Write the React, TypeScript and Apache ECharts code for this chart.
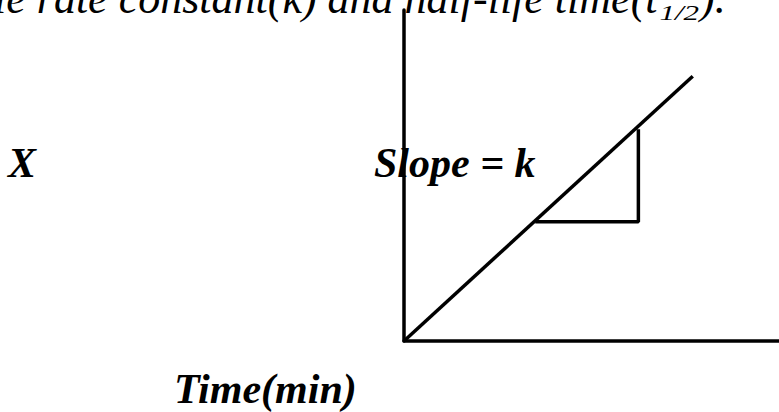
import React, { useEffect, useRef } from "react";
import * as echarts from "echarts";

// Data (abstract units: time on x, X on y)
const lineTime = [0, 7.7];
const lineX = [0, 8.0];
const triTime = [3.5, 6.25, 6.25];
const triX = [3.6, 3.6, 6.4];

const titleMain = "le rate constant(k) and half-life time(t";
const titleSub = "1/2";
const titleEnd = ").";
const yLabel = "X";
const slopeLabel = "Slope = k";
const xLabel = "Time(min)";

const W = 779;
const H = 412;

function measure(text: string, font: string): number {
  const c = document.createElement("canvas");
  const ctx = c.getContext("2d");
  if (!ctx) return text.length * 20;
  ctx.font = font;
  return ctx.measureText(text).width;
}

export default function App() {
  const ref = useRef<HTMLDivElement>(null);
  useEffect(() => {
    document.body.style.margin = "0";
    if (!ref.current) return;
    const chart = echarts.init(ref.current, undefined, { renderer: "svg" });
    const serif = "'Liberation Serif', 'Times New Roman', serif";
    const titleSize = 44;
    const titleX = -6;
    const mainW = measure(titleMain, `italic ${titleSize}px ${serif}`);
    const subSize = 20;
    const subScaleX = 1.55;
    const subW = measure(titleSub, `italic ${subSize}px ${serif}`) * subScaleX;
    const subX = titleX + mainW + 2;
    const endX = subX + subW + 1;
    const central = 0.3375;
    const lw = 3.5;

    const option: any = {
      animation: false,
      backgroundColor: "#ffffff",
      grid: { left: 404, right: 0, top: 10, bottom: 71, containLabel: false },
      xAxis: {
        type: "value",
        min: 0,
        max: 10,
        axisLine: { show: true, lineStyle: { color: "#000", width: lw } },
        axisTick: { show: false },
        axisLabel: { show: false },
        splitLine: { show: false },
      },
      yAxis: {
        type: "value",
        min: 0,
        max: 10,
        axisLine: { show: true, lineStyle: { color: "#000", width: lw } },
        axisTick: { show: false },
        axisLabel: { show: false },
        splitLine: { show: false },
      },
      series: [
        {
          type: "line",
          data: lineTime.map((t, i) => [t, lineX[i]]),
          showSymbol: false,
          symbol: "none",
          lineStyle: { color: "#000", width: lw },
          silent: true,
        },
        {
          type: "line",
          data: triTime.map((t, i) => [t, triX[i]]),
          showSymbol: false,
          symbol: "none",
          lineStyle: { color: "#000", width: lw },
          silent: true,
        },
      ],
      graphic: [
        {
          type: "text",
          x: titleX,
          y: 13 - central * titleSize,
          style: {
            text: titleMain,
            fontFamily: serif,
            fontStyle: "italic",
            fontSize: titleSize,
            fill: "#000",
            verticalAlign: "middle",
            align: "left",
          },
        },
        {
          type: "text",
          x: subX,
          y: 20 - central * subSize,
          scaleX: subScaleX,
          style: {
            text: titleSub,
            fontFamily: serif,
            fontStyle: "italic",
            fontSize: subSize,
            fill: "#000",
            verticalAlign: "middle",
            align: "left",
          },
        },
        {
          type: "text",
          x: endX,
          y: 13 - central * titleSize,
          style: {
            text: titleEnd,
            fontFamily: serif,
            fontStyle: "italic",
            fontSize: titleSize,
            fill: "#000",
            verticalAlign: "middle",
            align: "left",
          },
        },
        {
          type: "text",
          x: 8,
          y: 177 - central * 42,
          style: {
            text: yLabel,
            fontFamily: serif,
            fontStyle: "italic",
            fontWeight: "bold",
            fontSize: 42,
            fill: "#000",
            verticalAlign: "middle",
            align: "left",
          },
        },
        {
          type: "text",
          x: 374,
          y: 177 - central * 42,
          z: -1,
          style: {
            text: slopeLabel,
            fontFamily: serif,
            fontStyle: "italic",
            fontWeight: "bold",
            fontSize: 42,
            fill: "#000",
            verticalAlign: "middle",
            align: "left",
          },
        },
        {
          type: "text",
          x: 174,
          y: 403 - central * 42,
          style: {
            text: xLabel,
            fontFamily: serif,
            fontStyle: "italic",
            fontWeight: "bold",
            fontSize: 42,
            fill: "#000",
            verticalAlign: "middle",
            align: "left",
          },
        },
      ],
    };
    chart.setOption(option);
    return () => chart.dispose();
  }, []);
  return (
    <div
      ref={ref}
      style={{ position: "fixed", left: 0, top: 0, width: W, height: H, background: "#fff" }}
    />
  );
}
